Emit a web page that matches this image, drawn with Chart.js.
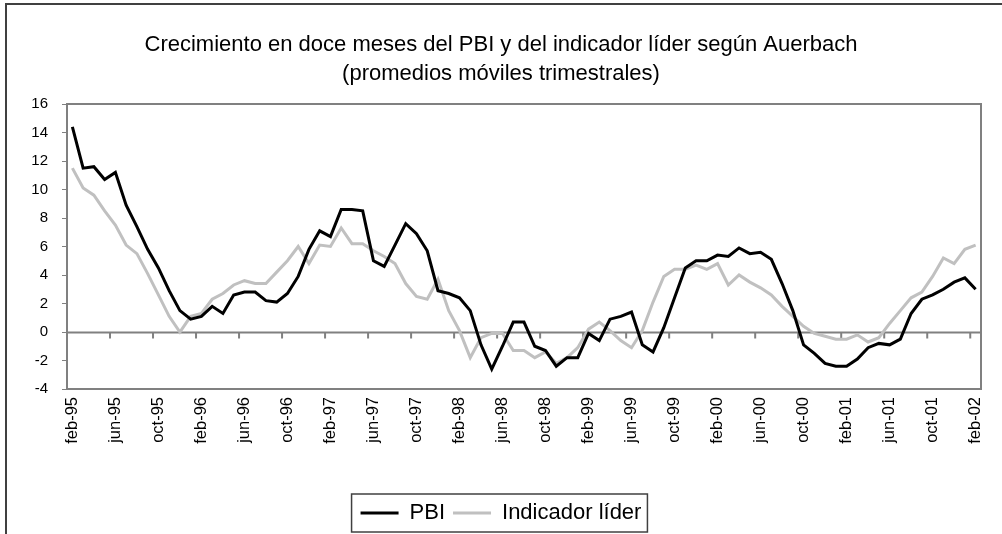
<!DOCTYPE html>
<html lang="es">
<head>
<meta charset="utf-8">
<title>Crecimiento PBI e indicador líder</title>
<script src="https://cdn.jsdelivr.net/npm/chart.js@4.4.1/dist/chart.umd.min.js"></script>
<style>
    html, body { margin: 0; padding: 0; background: #fff; }
    #wrap { position: relative; width: 1002px; height: 534px; }
</style>
</head>
<body>
<div id="wrap"><canvas id="grafico" width="1002" height="534"></canvas></div>
<script>
// meses feb-95 .. feb-02
const meses = ['ene', 'feb', 'mar', 'abr', 'may', 'jun', 'jul', 'ago', 'sep', 'oct', 'nov', 'dic'];
const etiquetasEje = ['feb-95', 'jun-95', 'oct-95', 'feb-96', 'jun-96', 'oct-96', 'feb-97', 'jun-97',
    'oct-97', 'feb-98', 'jun-98', 'oct-98', 'feb-99', 'jun-99', 'oct-99', 'feb-00', 'jun-00',
    'oct-00', 'feb-01', 'jun-01', 'oct-01', 'feb-02'];

const categorias = [];
for (let k = 1; k <= 85; k++) {
    const anio = 1995 + Math.floor(k / 12);
    categorias.push(meses[k % 12] + '-' + String(anio).slice(2));
}

const pbi = [14.4, 11.5, 11.6, 10.7, 11.2, 8.9, 7.4, 5.8, 4.5, 2.9, 1.5, 0.9,
    1.1, 1.8, 1.3, 2.6, 2.8, 2.8, 2.2, 2.1, 2.7, 3.9, 5.8, 7.1,
    6.7, 8.6, 8.6, 8.5, 5.0, 4.6, 6.1, 7.6, 6.9, 5.7, 2.9, 2.7,
    2.4, 1.5, -0.9, -2.6, -1.0, 0.7, 0.7, -1.0, -1.3, -2.4, -1.8, -1.8,
    -0.1, -0.6, 0.9, 1.1, 1.4, -0.9, -1.4, 0.3, 2.4, 4.5, 5.0, 5.0,
    5.4, 5.3, 5.9, 5.5, 5.6, 5.1, 3.4, 1.5, -0.9, -1.5, -2.2, -2.4,
    -2.4, -1.9, -1.1, -0.8, -0.9, -0.5, 1.3, 2.3, 2.6, 3.0, 3.5, 3.8,
    3.0];

const indicadorLider = [11.5, 10.1, 9.6, 8.5, 7.5, 6.1, 5.5, 4.1, 2.6, 1.1, 0.0, 1.1,
    1.3, 2.3, 2.7, 3.3, 3.6, 3.4, 3.4, 4.2, 5.0, 6.0, 4.8, 6.1,
    6.0, 7.3, 6.2, 6.2, 5.7, 5.3, 4.8, 3.4, 2.5, 2.3, 3.7, 1.5,
    0.1, -1.8, -0.4, -0.1, -0.1, -1.3, -1.3, -1.8, -1.4, -2.2, -1.8, -1.1,
    0.2, 0.7, 0.1, -0.6, -1.1, 0.1, 2.1, 3.9, 4.4, 4.4, 4.7, 4.4,
    4.8, 3.3, 4.0, 3.5, 3.1, 2.6, 1.8, 1.1, 0.4, -0.1, -0.3, -0.5,
    -0.5, -0.2, -0.7, -0.4, 0.6, 1.5, 2.4, 2.8, 3.9, 5.2, 4.8, 5.8,
    6.1];

const fuente = 'Arial, "Liberation Sans", sans-serif';

// marco exterior, borde del area de grafico, linea del cero con sus marcas
const marcoPlugin = {
    id: 'marco',
    beforeDraw(chart) {
        const ctx = chart.ctx;
        ctx.save();
        ctx.fillStyle = '#fff';
        ctx.fillRect(0, 0, chart.width, chart.height);
        ctx.strokeStyle = '#404040';
        ctx.lineWidth = 2;
        ctx.beginPath();
        ctx.moveTo(6, chart.height);
        ctx.lineTo(6, 4);
        ctx.lineTo(chart.width, 4);
        ctx.stroke();
        ctx.restore();
    },
    beforeDatasetsDraw(chart) {
        const ctx = chart.ctx;
        const a = chart.chartArea;
        const x = chart.scales.x;
        const y0 = Math.round(chart.scales.y.getPixelForValue(0)) + 0.5;
        ctx.save();
        ctx.strokeStyle = '#808080';
        ctx.lineWidth = 2;
        ctx.strokeRect(a.left, a.top, a.right - a.left, a.bottom - a.top);
        ctx.beginPath();
        ctx.moveTo(a.left, y0);
        ctx.lineTo(a.right, y0);
        for (let i = 4; i < categorias.length; i += 4) {
            const xt = (x.getPixelForValue(i - 1) + x.getPixelForValue(i)) / 2;
            ctx.moveTo(xt, y0);
            ctx.lineTo(xt, y0 + 6);
        }
        ctx.stroke();
        ctx.restore();
    },
    afterDraw(chart) {
        const boxes = chart.legend.legendHitBoxes;
        if (!boxes || !boxes.length) return;
        const left = Math.min(...boxes.map(b => b.left));
        const right = Math.max(...boxes.map(b => b.left + b.width));
        const top = Math.min(...boxes.map(b => b.top));
        const bottom = Math.max(...boxes.map(b => b.top + b.height));
        const ctx = chart.ctx;
        ctx.save();
        ctx.strokeStyle = '#404040';
        ctx.lineWidth = 1.5;
        ctx.strokeRect(left - 9, top - 8, right - left + 15, bottom - top + 16);
        ctx.restore();
    }
};

new Chart(document.getElementById('grafico').getContext('2d'), {
    type: 'line',
    data: {
        labels: categorias,
        datasets: [{
            label: 'PBI',
            data: pbi,
            borderColor: '#000000',
            backgroundColor: '#000000',
            borderWidth: 3,
            pointRadius: 0,
            tension: 0
        }, {
            label: 'Indicador líder',
            data: indicadorLider,
            borderColor: '#c0c0c0',
            backgroundColor: '#c0c0c0',
            borderWidth: 3,
            pointRadius: 0,
            tension: 0
        }]
    },
    options: {
        responsive: false,
        animation: false,
        layout: { padding: { left: 0, right: 0, top: 0, bottom: 0 } },
        plugins: {
            title: {
                display: true,
                text: ['Crecimiento en doce meses del PBI y del indicador líder según Auerbach',
                    '(promedios móviles trimestrales)'],
                color: '#000',
                font: { family: fuente, size: 22, weight: 'normal', lineHeight: 29 / 22 },
                padding: { top: 30, bottom: 16 }
            },
            legend: {
                position: 'bottom',
                labels: {
                    color: '#000',
                    font: { family: fuente, size: 22 },
                    usePointStyle: true,
                    pointStyle: 'line',
                    pointStyleWidth: 38,
                    padding: 8
                }
            },
            tooltip: { enabled: false }
        },
        scales: {
            x: {
                type: 'category',
                offset: true,
                grid: { display: false },
                border: { display: false },
                afterFit(s) { s.height = 105; },
                ticks: {
                    autoSkip: false,
                    maxRotation: 90,
                    minRotation: 90,
                    padding: 0,
                    color: '#000',
                    font: { family: fuente, size: 16.5 },
                    callback(val, idx) {
                        return idx % 4 === 0 ? etiquetasEje[idx / 4] : '';
                    }
                }
            },
            y: {
                min: -4,
                max: 16,
                afterFit(s) { s.width = 67; },
                grid: {
                    drawOnChartArea: false,
                    drawTicks: true,
                    tickLength: 5,
                    color: '#808080'
                },
                border: { display: true, color: '#808080', width: 2 },
                ticks: {
                    stepSize: 2,
                    padding: 14,
                    color: '#000',
                    font: { family: fuente, size: 15 }
                }
            },
            // margen derecho vacio, para que titulo y leyenda queden centrados en el lienzo
            margen: {
                type: 'linear',
                position: 'right',
                afterFit(s) { s.width = 21; },
                grid: { display: false },
                border: { display: false },
                ticks: { display: false }
            }
        }
    },
    plugins: [marcoPlugin]
});
</script>
</body>
</html>
